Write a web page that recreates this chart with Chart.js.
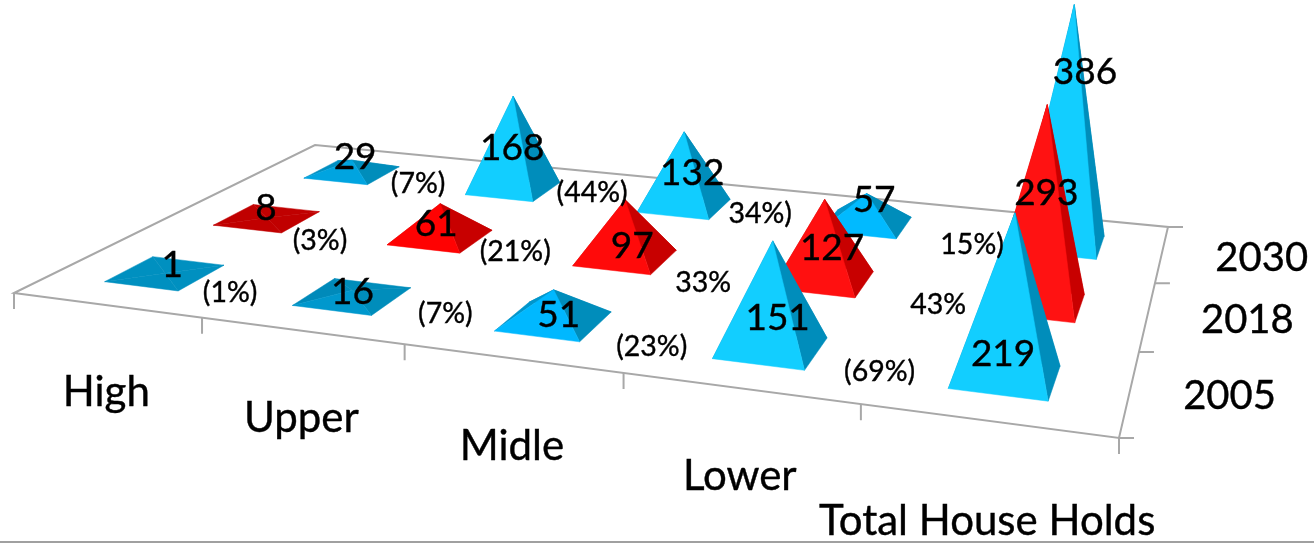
<!DOCTYPE html>
<html lang="en">
<head>
  <meta charset="UTF-8">
  <title>House Holds</title>
  <script src="https://cdn.jsdelivr.net/npm/chart.js"></script>
  <style>
    body { margin: 0; background: #fff; }
    canvas { display: block; }
  </style>
</head>
<body>
<canvas id="houseHolds" width="1314" height="545"></canvas>
<script>
  const categories = ['High', 'Upper', 'Midle', 'Lower', 'Total House Holds'];
  const years = ['2005', '2018', '2030'];
  const values2005 = [1, 16, 51, 151, 219];
  const values2018 = [8, 61, 97, 127, 293];
  const values2030 = [29, 168, 132, 57, 386];
  const shares2005 = ['(1%)', '(7%)', '(23%)', '(69%)'];
  const shares2018 = ['(3%)', '(21%)', '33%', '43%'];
  const shares2030 = ['(7%)', '(44%)', '34%)', '15%)'];

  // floor corners on screen: front left, front right, back right, back left
  const floor = [[14, 293], [1119, 438], [1168, 227], [315, 145]];
  const baseHalfX = 0.2;
  const baseHalfY = 0.21;
  const heightFactor = 0.497;
  const fontName = 'Lato, "Noto Sans", sans-serif';

  // label offsets from the centre of each pyramid base, one row per year
  const valueNudge = [
    [[7, -8], [0, -4], [5, -6], [7, -30], [-2, -23]],
    [[-1, -10], [-4, -13], [7, -12], [9, -32], [11, -110]],
    [[3, -15], [-1, -41], [8, -33], [8, -24], [25, -172]]
  ];
  const shareNudge = [
    [[65, 19], [93, 17], [98, 25], [109, 24]],
    [[53, 22], [75, 14], [78, 25], [115, 25]],
    [[66, 11], [79, 4], [76, 8], [106, 21]]
  ];
  const categoryDrop = [87, 88, 88, 88, 101];

  const blue = { flat: [0, 144, 192], mid: [0, 184, 255], steep: [18, 206, 255], side: '#008dbb', back: '#0083b0' };
  const red = { flat: [192, 0, 0], mid: [255, 0, 0], steep: [255, 18, 18], side: '#c80000', back: '#b00000' };

  // solve the unit square -> floor quad projection once
  const homography = (function () {
    const [p0, p1, p2, p3] = floor;
    const dx1 = p1[0] - p2[0], dx2 = p3[0] - p2[0], sx = p0[0] - p1[0] + p2[0] - p3[0];
    const dy1 = p1[1] - p2[1], dy2 = p3[1] - p2[1], sy = p0[1] - p1[1] + p2[1] - p3[1];
    const det = dx1 * dy2 - dx2 * dy1;
    const g = (sx * dy2 - dx2 * sy) / det;
    const h = (dx1 * sy - sx * dy1) / det;
    return {
      a: p1[0] - p0[0] + g * p1[0], b: p3[0] - p0[0] + h * p3[0], c: p0[0],
      d: p1[1] - p0[1] + g * p1[1], e: p3[1] - p0[1] + h * p3[1], f: p0[1],
      g: g, h: h
    };
  })();

  // data position on the x / y scales -> point on the tilted floor
  function project(chart, xVal, yVal) {
    const area = chart.chartArea;
    const u = (chart.scales.x.getPixelForValue(xVal) - area.left) / (area.right - area.left);
    const v = (area.bottom - chart.scales.y.getPixelForValue(yVal)) / (area.bottom - area.top);
    const m = homography;
    const w = m.g * u + m.h * v + 1;
    return { x: (m.a * u + m.b * v + m.c) / w, y: (m.d * u + m.e * v + m.f) / w, w: w, u: u };
  }

  function mix(a, b, t) {
    const c = a.map((n, i) => Math.round(n + (b[i] - n) * t));
    return 'rgb(' + c.join(',') + ')';
  }

  function toRgb(color) {
    return [1, 3, 5].map(i => parseInt(color.slice(i, i + 2), 16));
  }

  // lit face gets brighter as the slope rises
  function frontRgb(palette, rise) {
    const t = Math.min(1, rise / 30);
    const s = Math.min(1, Math.max(0, (rise - 30) / 60));
    return palette.flat.map((n, i) => n + (palette.mid[i] - n) * t + (palette.steep[i] - palette.mid[i]) * s);
  }

  function face(ctx, points, color) {
    ctx.beginPath();
    ctx.moveTo(points[0].x, points[0].y);
    points.slice(1).forEach(p => ctx.lineTo(p.x, p.y));
    ctx.closePath();
    ctx.fillStyle = color;
    ctx.strokeStyle = color;
    ctx.lineWidth = 0.5;
    ctx.fill();
    ctx.stroke();
  }

  function drawPyramid(chart, ctx, item, palette) {
    const z = chart.scales.z;
    const rise = Math.max(0, z.bottom - z.getPixelForValue(item.v)) * heightFactor;
    const c = project(chart, item.x, item.y);
    const leftFront = project(chart, item.x - baseHalfX, item.y - baseHalfY);
    const rightFront = project(chart, item.x + baseHalfX, item.y - baseHalfY);
    const rightBack = project(chart, item.x + baseHalfX, item.y + baseHalfY);
    const leftBack = project(chart, item.x - baseHalfX, item.y + baseHalfY);
    const lean = Math.max(0, c.u - 0.6) * 0.2 * rise;
    const apex = { x: c.x + lean / c.w, y: c.y - rise / c.w };

    const lit = frontRgb(palette, rise);
    const flat = mix(palette.flat, palette.flat, 0);
    // the left face sits between the shaded back and the lit front
    const leftFace = mix(toRgb(palette.back), lit, 0.35);
    face(ctx, [leftBack, rightBack, apex], rise < 1 ? flat : palette.side);
    face(ctx, [leftFront, leftBack, apex], rise < 1 ? flat : leftFace);
    face(ctx, [rightFront, rightBack, apex], rise < 1 ? flat : palette.side);
    face(ctx, [leftFront, rightFront, apex], mix(lit, lit, 0));
    return c;
  }

  function drawText(ctx, text, x, y, size) {
    ctx.font = size + 'px ' + fontName;
    ctx.fillStyle = '#000';
    ctx.strokeStyle = '#000';
    ctx.lineWidth = 0.4;
    ctx.textAlign = 'center';
    ctx.textBaseline = 'middle';
    ctx.fillText(text, x, y);
    ctx.strokeText(text, x, y);
  }

  const floorPlugin = {
    id: 'floorPlugin',
    beforeDatasetsDraw(chart) {
      const ctx = chart.ctx;
      const xs = chart.scales.x, ys = chart.scales.y;
      const corners = [[xs.min, ys.min], [xs.max, ys.min], [xs.max, ys.max], [xs.min, ys.max]]
        .map(p => project(chart, p[0], p[1]));

      ctx.save();
      ctx.strokeStyle = '#a8a8a8';
      ctx.lineWidth = 2;
      ctx.beginPath();
      corners.forEach((p, i) => i ? ctx.lineTo(p.x, p.y) : ctx.moveTo(p.x, p.y));
      ctx.closePath();
      ctx.stroke();

      // ticks hang straight down on the front edge and run right on the side edge
      ctx.beginPath();
      xs.ticks.forEach(t => {
        const p = project(chart, t.value, ys.min);
        ctx.moveTo(p.x, p.y);
        ctx.lineTo(p.x, p.y + 16);
      });
      ys.ticks.forEach(t => {
        const p = project(chart, xs.max, t.value);
        ctx.moveTo(p.x, p.y);
        ctx.lineTo(p.x + 15, p.y);
      });
      ctx.stroke();

      // rule along the bottom of the page
      ctx.strokeStyle = '#a0a0a0';
      ctx.beginPath();
      ctx.moveTo(0, 542);
      ctx.lineTo(chart.width, 542);
      ctx.stroke();
      ctx.restore();
    },
    afterDatasetsDraw(chart) {
      const ctx = chart.ctx;
      const centres = [];
      ctx.save();
      // back row first so the nearer pyramids cover the farther ones
      for (let r = chart.data.datasets.length - 1; r >= 0; r--) {
        const ds = chart.data.datasets[r];
        centres[r] = ds.data.map(item => drawPyramid(chart, ctx, item, ds.palette));
      }

      chart.data.datasets.forEach((ds, r) => {
        ds.data.forEach((item, i) => {
          const c = centres[r][i];
          drawText(ctx, String(item.v), c.x + valueNudge[r][i][0], c.y + valueNudge[r][i][1], 37);
          if (ds.shares[i]) {
            drawText(ctx, ds.shares[i], c.x + shareNudge[r][i][0], c.y + shareNudge[r][i][1], 28.5);
          }
        });
      });

      categories.forEach((name, i) => {
        const p = project(chart, i + 0.5, chart.scales.y.min);
        drawText(ctx, name, p.x, p.y + categoryDrop[i], 42);
      });
      years.forEach((year, i) => {
        const p = project(chart, chart.scales.x.max, i + 0.5);
        drawText(ctx, year, p.x + 100, p.y + 4, 40);
      });
      ctx.restore();
    }
  };

  function row(values, depth) {
    return values.map((v, i) => ({ x: i + 0.5, y: depth + 0.5, v: v }));
  }

  new Chart(document.getElementById('houseHolds'), {
    type: 'scatter',
    data: {
      datasets: [
        { label: years[0], data: row(values2005, 0), palette: blue, shares: shares2005, pointRadius: 0 },
        { label: years[1], data: row(values2018, 1), palette: red, shares: shares2018, pointRadius: 0 },
        { label: years[2], data: row(values2030, 2), palette: blue, shares: shares2030, pointRadius: 0 }
      ]
    },
    options: {
      responsive: false,
      animation: false,
      layout: { padding: 0 },
      plugins: { legend: { display: false }, tooltip: { enabled: false } },
      scales: {
        x: { type: 'linear', min: 0, max: categories.length, display: false, ticks: { stepSize: 1 } },
        y: { type: 'linear', min: 0, max: years.length, display: false, ticks: { stepSize: 1 } },
        z: { type: 'linear', axis: 'y', min: 7, max: 400, display: false }
      }
    },
    plugins: [floorPlugin]
  });
</script>
</body>
</html>
